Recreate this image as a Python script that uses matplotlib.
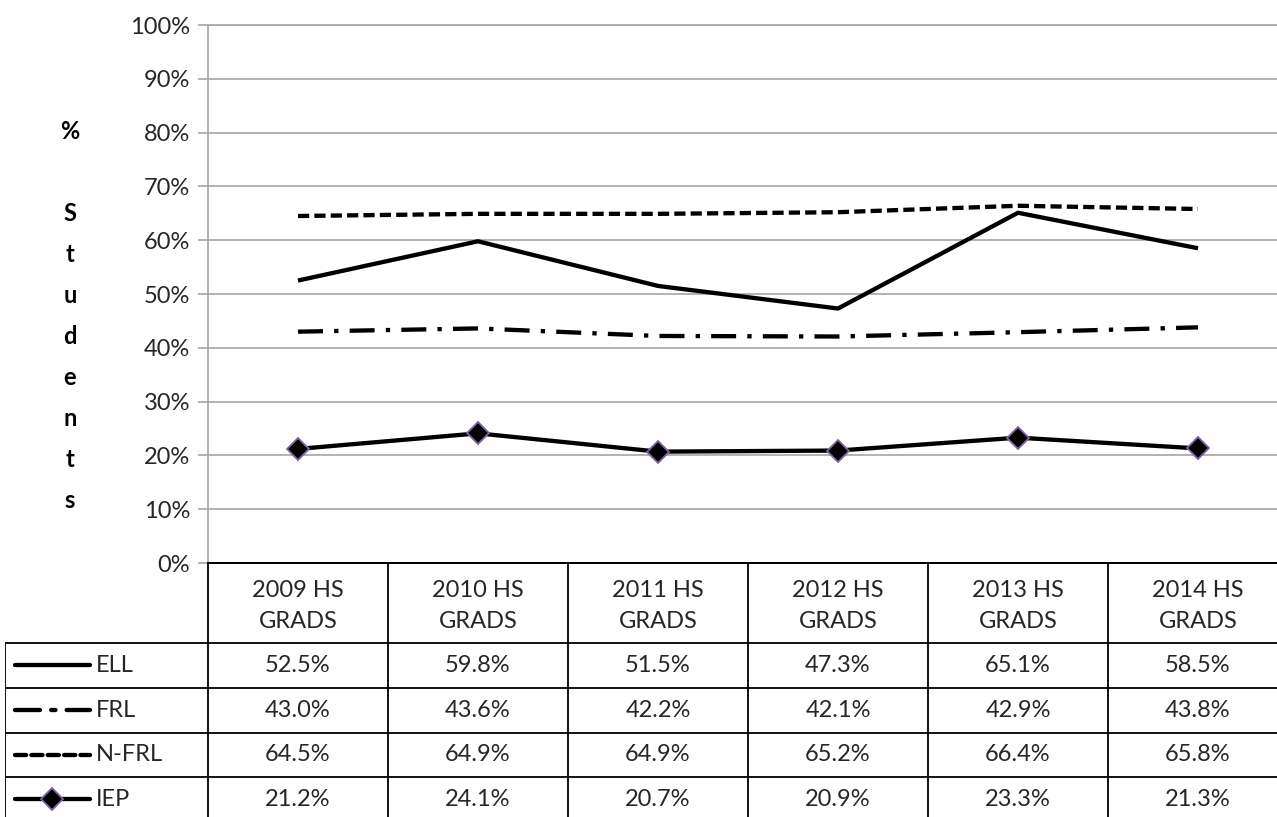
import numpy as np
import matplotlib
matplotlib.use("Agg")
import matplotlib.pyplot as plt

plt.rcParams['font.family'] = ['Lato', 'DejaVu Sans']

# data
years = ['2009 HS\nGRADS', '2010 HS\nGRADS', '2011 HS\nGRADS',
         '2012 HS\nGRADS', '2013 HS\nGRADS', '2014 HS\nGRADS']
series_names = ['ELL', 'FRL', 'N-FRL', 'IEP']
ell = [52.5, 59.8, 51.5, 47.3, 65.1, 58.5]
frl = [43.0, 43.6, 42.2, 42.1, 42.9, 43.8]
nfrl = [64.5, 64.9, 64.9, 65.2, 66.4, 65.8]
iep = [21.2, 24.1, 20.7, 20.9, 23.3, 21.3]
yticks = [0, 10, 20, 30, 40, 50, 60, 70, 80, 90, 100]

W, H = 1277, 817
TXT = '#262626'
GRID = '#a6a6a6'
LW = 3.1
FS = 17


def rect(x0, y0, x1, y1):
    # pixel box (top-left origin) -> figure fraction
    return [x0 / W, 1 - y1 / H, (x1 - x0) / W, (y1 - y0) / H]


styles = {
    'ELL': dict(ls='-'),
    'FRL': dict(ls=(0, (5.8, 2.6, 1.0, 2.6))),
    'N-FRL': dict(ls=(0, (2.6, 1.2))),
    'IEP': dict(ls='-', marker='D', markersize=11.5, markerfacecolor='black',
                markeredgecolor='#8064a2', markeredgewidth=1.3),
}
values = {'ELL': ell, 'FRL': frl, 'N-FRL': nfrl, 'IEP': iep}

fig = plt.figure(figsize=(W / 100, H / 100), dpi=100)

# main chart, category width 180 px, last column runs past the edge
ax = fig.add_axes(rect(208, 25, 1288, 563))
n = len(years)
xs = np.arange(n) + 0.5
for name in ['N-FRL', 'FRL', 'ELL', 'IEP']:
    ax.plot(xs, np.array(values[name]) / 100, color='black', lw=LW,
            solid_capstyle='butt', dash_capstyle='butt', zorder=3,
            **styles[name])
ax.set_xlim(0, n)
ax.set_ylim(0, 1)
ax.set_yticks(np.array(yticks) / 100)
ax.set_yticklabels([f'{v}%' for v in yticks], fontsize=FS, color=TXT)
ax.set_xticks([])
ax.yaxis.grid(True, color=GRID, lw=1.2)
ax.tick_params(axis='y', length=7.2, width=1.2, color=GRID, pad=5.5)
ax.spines['right'].set_visible(False)
ax.spines['top'].set_color(GRID)
ax.spines['top'].set_linewidth(1.2)
ax.spines['left'].set_color(GRID)
ax.spines['left'].set_linewidth(1.2)
ax.spines['bottom'].set_color('black')
ax.spines['bottom'].set_linewidth(1.3)
ax.set_axisbelow(True)

fig.text(70 / W, 1 - 316 / H, '%\n\nS\nt\nu\nd\ne\nn\nt\ns', ha='center',
         va='center', fontsize=FS, fontweight='bold', color='black',
         linespacing=1.95)

# data table below, same x scale as the chart
tx0 = (5 - 208) / 180
tax = fig.add_axes(rect(5, 563, 1288, 863))
tax.set_xlim(tx0, n)
tax.set_ylim(863, 563)
tax.axis('off')

row_lines = [643, 688, 733, 777, 822]
tax.plot([0, n], [563, 563], color='black', lw=1.3, clip_on=False)
for y in row_lines:
    tax.plot([tx0, n], [y, y], color='black', lw=1.3)
for c in range(n + 1):
    tax.plot([c, c], [563, 822], color='black', lw=1.3)
tax.plot([tx0, tx0], [643, 822], color='black', lw=1.3)

for i, lab in enumerate(years):
    tax.text(i + 0.5, 606, lab, ha='center', va='center', fontsize=FS,
             color=TXT, linespacing=1.58)

key_x = [(15 - 208) / 180, (90 - 208) / 180]
for r, name in enumerate(series_names):
    yc = (row_lines[r] + row_lines[r + 1]) / 2
    st = dict(styles[name])
    if 'marker' in st:
        st['markevery'] = [1]
        tax.plot([key_x[0], np.mean(key_x), key_x[1]], [yc, yc, yc],
                 color='black', lw=LW, solid_capstyle='round', **st)
    else:
        tax.plot(key_x, [yc, yc], color='black', lw=LW,
                 solid_capstyle='round', dash_capstyle='round', **st)
    tax.text((96 - 208) / 180, yc, name, ha='left', va='center',
             fontsize=FS, color=TXT)
    for i, v in enumerate(values[name]):
        tax.text(i + 0.5, yc, f'{v:.1f}%', ha='center', va='center',
                 fontsize=FS, color=TXT)

fig.savefig('out.png', dpi=100, facecolor='white')
